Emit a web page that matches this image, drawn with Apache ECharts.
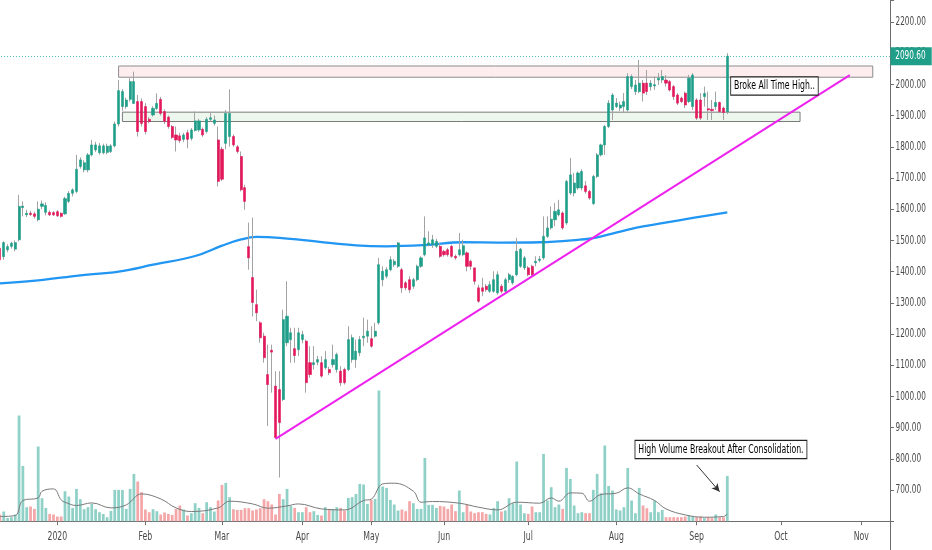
<!DOCTYPE html>
<html><head><meta charset="utf-8">
<script src="https://cdn.jsdelivr.net/npm/echarts@6/dist/echarts.min.js"></script>
<style>html,body{margin:0;padding:0;background:#fff}#c{width:932px;height:550px}</style>
</head><body><div id="c"></div>
<script>
// OHLC per trading day: [open, close, low, high]
const candles = [
[1475,1438,1432,1481],[1448,1493,1438,1497],[1470,1480,1462,1488],[1481,1491,1474,1496],[1472,1493,1465,1500],
[1502,1609,1497,1646],[1605,1610,1577,1625],[1582,1587,1575,1598],[1587,1583,1578,1595],[1585,1577,1570,1592],
[1566,1600,1561,1625],[1609,1617,1600,1628],[1590,1612,1580,1622],[1590,1582,1578,1596],[1589,1582,1578,1594],
[1592,1579,1575,1597],[1587,1577,1573,1590],[1585,1634,1582,1640],[1625,1651,1620,1658],[1651,1662,1641,1667],
[1657,1728,1651,1774],[1737,1758,1730,1766],[1726,1749,1718,1757],[1726,1774,1718,1780],[1774,1806,1769,1822],
[1790,1806,1783,1816],[1781,1803,1775,1812],[1781,1803,1776,1810],[1782,1802,1776,1810],[1785,1803,1780,1808],
[1803,1873,1798,1881],[1873,1980,1865,2014],[1929,1977,1915,1985],[1929,1950,1922,1958],[1952,2009,1945,2020],
[1939,2009,1937,2041],[1945,1849,1833,1966],[1945,1875,1865,1955],[1929,1849,1840,1940],[1888,1881,1875,1895],
[1902,1923,1897,1930],[1923,1939,1918,1971],[1952,1907,1900,1960],[1913,1881,1873,1920],[1895,1865,1858,1900],
[1865,1830,1825,1870],[1838,1822,1785,1865],[1835,1820,1812,1845],[1824,1838,1815,1845],[1845,1824,1795,1854],
[1827,1854,1820,1860],[1852,1883,1849,1913],[1854,1883,1848,1890],[1856,1838,1832,1862],[1849,1888,1843,1895],
[1888,1893,1880,1910],[1875,1886,1868,1900],[1822,1689,1673,1865],[1792,1696,1690,1800],[1811,1907,1792,1918],
[1833,1907,1801,1984],[1833,1806,1800,1840],[1800,1785,1778,1806],[1769,1662,1657,1785],[1669,1625,1598,1678],
[1480,1444,1406,1557],[1381,1301,1256,1573],[1294,1268,1241,1342],[1236,1188,1172,1241],[1193,1124,1108,1204],
[1070,1038,905,1166],[1148,1142,1012,1166],[1033,868,866,1081],[1022,916,740,1081],[990,1246,985,1278],
[1172,1257,1161,1369],[1182,1204,1108,1220],[1153,1131,1108,1220],[1150,1204,1129,1220],[1182,1198,1170,1210],
[1177,1044,1012,1182],[1108,1070,1060,1161],[1102,1108,1086,1161],[1110,1118,1100,1130],[1108,1065,1060,1129],
[1092,1118,1086,1145],[1086,1076,1068,1095],[1102,1118,1092,1166],[1086,1134,1076,1140],[1081,1044,1033,1097],
[1086,1044,1038,1092],[1086,1182,1081,1225],[1118,1188,1108,1198],[1118,1145,1092,1182],[1140,1182,1129,1193],
[1188,1193,1161,1252],[1193,1209,1172,1246],[1185,1161,1156,1225],[1193,1209,1188,1236],[1236,1422,1230,1444],
[1374,1401,1353,1417],[1385,1406,1378,1414],[1406,1438,1401,1449],[1422,1433,1415,1440],[1417,1492,1412,1495],
[1406,1348,1332,1412],[1364,1348,1340,1370],[1374,1342,1332,1385],[1353,1374,1345,1380],[1374,1417,1369,1422],
[1417,1444,1412,1449],[1454,1508,1449,1577],[1486,1492,1481,1529],[1486,1502,1476,1518],[1481,1497,1475,1505],
[1481,1449,1444,1492],[1465,1454,1448,1470],[1470,1454,1448,1476],[1481,1449,1444,1486],[1449,1444,1438,1455],
[1454,1470,1449,1524],[1454,1483,1449,1502],[1460,1417,1401,1465],[1433,1417,1406,1438],[1412,1369,1358,1412],
[1348,1305,1300,1358],[1348,1337,1321,1380],[1353,1342,1335,1360],[1337,1358,1332,1369],[1337,1374,1332,1401],
[1332,1390,1326,1401],[1353,1337,1330,1360],[1337,1374,1332,1380],[1374,1390,1364,1396],[1364,1385,1358,1388],
[1390,1465,1385,1508],[1417,1472,1412,1476],[1412,1444,1405,1450],[1412,1390,1385,1418],[1417,1390,1384,1422],
[1428,1433,1417,1449],[1436,1440,1430,1450],[1444,1513,1438,1577],[1513,1540,1508,1577],[1540,1568,1534,1609],
[1566,1593,1545,1620],[1582,1598,1577,1630],[1588,1540,1534,1593],[1556,1689,1550,1694],[1652,1710,1646,1764],
[1652,1684,1641,1716],[1668,1716,1662,1721],[1668,1721,1660,1728],[1675,1657,1650,1690],[1657,1636,1630,1662],
[1618,1705,1614,1710],[1705,1774,1700,1780],[1774,1806,1769,1810],[1806,1865,1774,1870],[1865,1940,1860,1950],
[1918,1966,1886,1972],[1929,1940,1924,1956],[1924,1934,1915,1945],[1929,1945,1908,1972],[1918,2025,1913,2036],
[1993,2025,1985,2032],[1977,1998,1966,2014],[1977,2004,1972,2078],[2004,1972,1945,2014],[2004,1977,1966,2046],
[1993,2004,1980,2014],[1995,1999,1982,2025],[2014,2020,1998,2036],[2014,2025,2004,2046],[2014,2004,1993,2030],
[2009,1982,1977,2014],[1993,1961,1950,1998],[1966,1940,1934,1972],[1956,1945,1940,1961],[1972,1934,1924,1977],
[1945,2020,1940,2030],[1929,2030,1918,2036],[1950,1892,1886,1956],[1950,1892,1886,1972],[1961,1971,1929,1993],
[1922,1918,1886,1977],[1920,1916,1886,1950],[1929,1942,1918,1977],[1942,1913,1908,1945],[1924,1910,1886,1929],
[1912,2090.6,1905,2100]
];
// Volume per trading day (same order as candles)
const volumes = [
6.7,9.7,3.3,4,6.7,105.7,55.3,14,14.7,12.3,74.7,23,13.3,7.3,6.7,4.7,4.7,30,24.7,13.3,
32.3,22,12,14,17.3,12,9,7.3,4,10.3,31.3,31.3,31.3,12.3,32.3,47.3,39.7,29,11.7,9,
12,10,6.7,8.7,7.3,6.3,12.3,15.7,11.7,5.7,8,18,13.3,8,19,14,9.7,20.7,36.3,38.3,
24,12,11.3,11.3,13,13,10.7,11.7,13,22,20,16.7,6.7,27.3,22,32.3,15.3,13.3,9,9,
14,9,10,6.3,5.7,14,12.3,12.3,14,13.3,10.7,23.3,24,27.3,37.3,36.7,17.3,21.3,22.3,130.7,
34.7,33.3,21.3,16.7,10.7,11.7,10,20,18,12.3,12.3,63.3,16.3,16.3,13.3,15.3,14.7,12.3,16.7,10,
30.7,9,16.3,9.7,8,9,9,7.3,6.7,13.3,20,9.7,10.7,23,18,59.7,16.7,8,7.3,14.7,
9,9,67.3,20.7,34,14,16.7,12.3,53.3,42.3,15.7,8,9,8,8,31.3,47.3,28,75.7,35.3,
30.7,11.7,10.7,14,53.3,20.7,8,33.3,15.7,13,9,20.7,9,11.3,4,4,4,4,4,4.7,
5.7,4.7,4,4.7,3.3,4,3.3,6.7,4,4,45.3
];
// 200-day moving average, read at [bar index, value]
const ma200 = [[0,1362],[10,1372],[21,1388],[31,1400],[40,1422],[51,1450],[58,1483],[63,1503],[67,1511],[73,1508],
[83,1496],[93,1484],[101,1481],[111,1485],[121,1494],[131,1493],[141,1494],[151,1502],[156,1510],[166,1540],
[173,1555],[181,1572],[190,1590]];
// volume moving average, read at [bar index, value]
const volMA = [[0,4.7],[4,5.7],[6,20.7],[10,23.3],[11,30],[14,32.3],[16,21.3],[17,19],[20,15.7],[24,18.3],
[29,13.3],[33,16.3],[37,27.3],[42,22.3],[46,13.3],[50,9.7],[57,13.3],[60,20],[66,17.3],[70,13],[75,15.3],
[78,17.3],[84,12.3],[90,11.3],[95,20.7],[97,22],[100,37.3],[103,38],[108,30],[110,19],[113,19.7],[120,18],
[125,14],[130,11.3],[135,19],[141,18],[144,23.3],[146,20],[149,28.3],[152,28],[154,20],[157,26.7],[161,28],
[164,33.3],[167,27.3],[171,20.7],[174,12.3],[179,6.3],[184,4],[189,4.7],[190,7.3]];
// month tick labels at bar slots
const monthTicks = {15:'2020',38:'Feb',58:'Mar',79:'Apr',97:'May',116:'Jun',138:'Jul',161:'Aug',182:'Sep',204:'Oct',225:'Nov'};
// price axis tick labels
const priceTicks = [700,800,900,1000,1100,1200,1300,1400,1500,1600,1700,1800,1900,2000,2100,2200];
const totalSlots = 233;
const trendLine = [[72,864],[222,2030]];
const resistanceZone = [31, 228, 2023, 2059];
const supportZone = [32, 209, 1881, 1911];
const lastPrice = 2090.6;
const noteATH = {at:[191,1995], text:'Broke All Time High..'};
const noteVol = {at:[166,71.7], text:'High Volume Breakout After Consolidation.'};
const volArrow = [[182,56.2],[188,29.5]];

const UP='#1f9e89', DOWN='#e2185b', VUP='#8fd0c7', VDOWN='#f4a7a8', AX='#6e6e6e';
const FONT12 = '12px "DejaVu Sans Condensed", "DejaVu Sans", sans-serif';
const SQ = 0.72;       // horizontal squeeze of the condensed chart font
const GRID = {left: -2, right: 42, top: 0, bottom: 28.8};
const W = 932, H = 550;
const cats = Array.from({length: totalSlots}, (_, i) => String(i));
const bodies = candles.map(c => [c[0], c[1], Math.min(c[0], c[1]), Math.max(c[0], c[1])]);
const volData = volumes.map((v, i) => ({value: v, itemStyle: {color: candles[i][1] >= candles[i][0] ? VUP : VDOWN}}));
const isTick = i => monthTicks[i] !== undefined;

const chart = echarts.init(document.getElementById('c'));
chart.setOption({
  animation: false,
  backgroundColor: '#fff',
  grid: Object.assign({outerBoundsMode: 'none', containLabel: false}, GRID),
  xAxis: {
    type: 'category', data: cats, boundaryGap: true,
    axisLine: {show: true, lineStyle: {color: AX, width: 1}},
    axisTick: {show: true, alignWithLabel: true, interval: isTick, length: 4, lineStyle: {color: AX}},
    axisLabel: {show: false},
    splitLine: {show: false}
  },
  yAxis: [{
    type: 'value', position: 'right', min: 600, max: 2270.5, interval: 100,
    axisLine: {show: true, lineStyle: {color: AX}},
    axisTick: {show: true, length: 4, lineStyle: {color: AX}},
    axisLabel: {show: false},
    splitLine: {show: false}
  }, {
    type: 'value', min: 0, max: 521.2, show: false, splitLine: {show: false}
  }],
  series: [
    {
      type: 'bar', yAxisIndex: 1, data: volData, barWidth: '72%', z: 1,
      markLine: {
        silent: true, symbol: ['none', 'arrow'], symbolSize: [6, 8],
        lineStyle: {color: '#333', width: 1, type: 'solid'}, label: {show: false},
        data: [[{coord: volArrow[0]}, {coord: volArrow[1]}]]
      }
    },
    {type: 'line', yAxisIndex: 1, data: volMA, smooth: 0.4, symbol: 'none', lineStyle: {color: '#7a7a7a', width: 1}, z: 2},
    {type: 'line', data: ma200, smooth: 0.4, symbol: 'none', lineStyle: {color: '#2196f3', width: 2.3}, z: 3},
    {
      type: 'candlestick', data: candles, barWidth: 1, z: 4,
      itemStyle: {color: '#a3a3a3', color0: '#a3a3a3', borderColor: '#a3a3a3', borderColor0: '#a3a3a3', borderWidth: 1},
      markArea: {
        silent: true,
        data: [
          [{xAxis: resistanceZone[0], yAxis: resistanceZone[2], itemStyle: {color: 'rgba(242,54,69,0.09)', borderColor: '#8c8c8c', borderWidth: 1}},
           {xAxis: resistanceZone[1], yAxis: resistanceZone[3]}],
          [{xAxis: supportZone[0], yAxis: supportZone[2], itemStyle: {color: 'rgba(76,175,80,0.10)', borderColor: '#7a7a7a', borderWidth: 1}},
           {xAxis: supportZone[1], yAxis: supportZone[3]}]
        ]
      }
    },
    {
      type: 'candlestick', data: bodies, barWidth: 2.6, z: 5,
      itemStyle: {color: UP, color0: DOWN, borderColor: UP, borderColor0: DOWN, borderWidth: 0.6},
      markLine: {
        silent: true, symbol: ['none', 'none'],
        lineStyle: {type: [1, 2], color: '#5bbfb2', width: 1},
        label: {show: false},
        data: [{yAxis: lastPrice}]
      }
    },
    {type: 'line', data: trendLine, symbol: 'none', lineStyle: {color: '#ee22ee', width: 2}, z: 6}
  ]
});

// Text drawn as graphics so it can use the chart's narrow lettering
const px = (k, v, yi) => chart.convertToPixel({xAxisIndex: 0, yAxisIndex: yi || 0}, [k, v]);
const axisX = W - GRID.right;
const axisY = H - GRID.bottom;
const g = [];
g.push({type: 'line', shape: {x1: axisX + 0.5, y1: axisY, x2: axisX + 0.5, y2: H}, style: {stroke: AX, lineWidth: 1}});
priceTicks.forEach(v => {
  g.push({type: 'text', x: axisX + 5.5, y: px(0, v)[1], scaleX: 0.68, z: 10,
    style: {text: v.toFixed(2), font: FONT12, fill: '#4a4a4a', align: 'left', verticalAlign: 'middle'}});
});
Object.keys(monthTicks).forEach(k => {
  g.push({type: 'text', x: px(+k, 1000)[0], y: axisY + 16, scaleX: SQ, z: 10,
    style: {text: monthTicks[k], font: FONT12, fill: '#4a4a4a', align: 'center', verticalAlign: 'middle'}});
});
g.push({type: 'text', x: axisX + 0.5, y: px(0, lastPrice)[1], scaleX: 0.68, z: 11,
  style: {text: lastPrice.toFixed(2), font: FONT12, fill: '#fff', align: 'left', verticalAlign: 'middle',
    backgroundColor: UP, padding: [3, 9, 3, 7]}});
const a1 = px(noteATH.at[0], noteATH.at[1]);
g.push({type: 'text', x: a1[0], y: a1[1], scaleX: SQ, z: 11,
  style: {text: noteATH.text, font: FONT12, fill: '#000', align: 'left', verticalAlign: 'middle',
    backgroundColor: '#fff', borderColor: '#222', borderWidth: 1.2, padding: [3, 4, 2, 4]}});
const a2 = px(noteVol.at[0], noteVol.at[1], 1);
g.push({type: 'text', x: a2[0], y: a2[1], scaleX: SQ, z: 11,
  style: {text: noteVol.text, font: FONT12, fill: '#000', align: 'left', verticalAlign: 'middle',
    backgroundColor: '#fff', borderColor: '#222', borderWidth: 1.2, padding: [3, 4, 2, 4]}});
chart.setOption({graphic: g});
</script></body></html>
